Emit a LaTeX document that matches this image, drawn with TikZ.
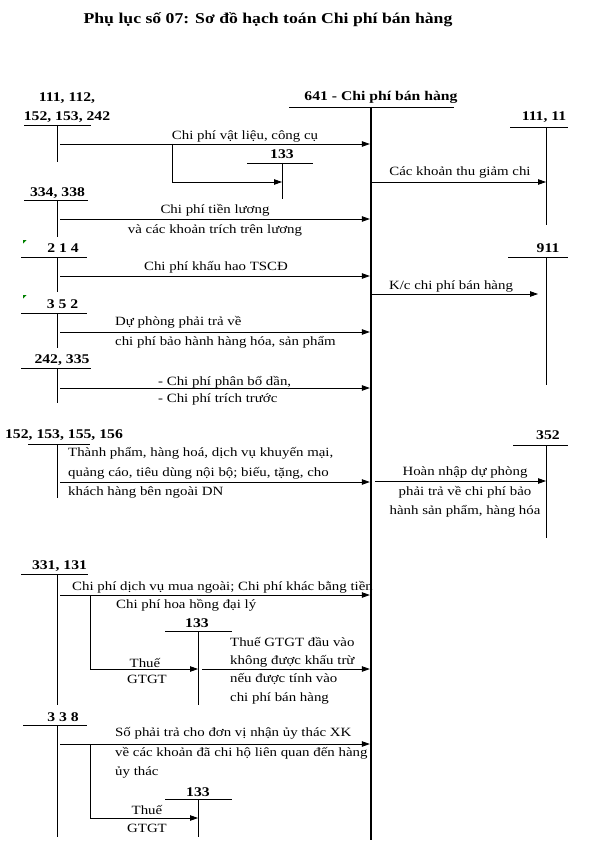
\documentclass[tikz,border=0pt]{standalone}
\usepackage{fontspec}
\setmainfont{Liberation Serif}[FakeStretch=1.18]
\usetikzlibrary{arrows.meta}

\begin{document}
\begin{tikzpicture}[x=1pt, y=-1pt,
    every node/.style={inner sep=0pt, font=\fontsize{12.6}{19.5}\selectfont},
    acc/.style={align=center, font=\fontsize{13.3}{19.5}\selectfont\bfseries},
    note/.style={align=left, anchor=west},
    tline/.style={line width=0.8pt},
    flow/.style={line width=0.8pt, -{Triangle[length=8pt,width=5.5pt]}}]
    \useasboundingbox (0,0) rectangle (593,850);

    \node[font=\fontsize{15}{18}\selectfont\bfseries] (title) at (268,20) {Phụ lục số 07: Sơ đồ hạch toán Chi phí bán hàng};

    % 641 - tai khoan chinh
    \node[acc] (tk641) at (381,97) {641 - Chi phí bán hàng};
    \draw[tline] (289,107) -- (454,107);
    \coordinate (m0) at (371,107);
    \coordinate (m1) at (371,840);
    \draw[line width=2.4pt] (m0) -- (m1);

    % cac tai khoan chu T: ten/nhan/x/y nhan/gach tu/den/y gach/x doc/y day
    \foreach \nm/\lbl/\cx/\ly/\xa/\xb/\yl/\vx/\yb in {
        a/{111, 112,\\152, 153, 242}/67/107.5/24/91/125/57/162,
        b/133/282/154/247/313/163/282/199,
        c/{111, 11}/544/117/510/568/127/546/225,
        d/{334, 338}/57.5/193/24/88/200/57/237,
        e/2 1 4/63/248/21/87/257/57/292,
        f/3 5 2/62.5/304/21/87/313/57/348,
        g/{242, 335}/62/360/21/91/368/57/403,
        h/911/548/248/508/568/257/546/385,
        i/{152, 153, 155, 156}/64/435/28/90/444/57/498,
        j/352/548/435/513/568/445/546/538,
        k/{331, 131}/59.5/566/21/88/574/57/705,
        l/133/197/623/165/232/631/198/705,
        m/3 3 8/63/717/23/87/725/57/837,
        n/133/198/792/165/232/799/198/837}
    {
        \node[acc] (tk\nm) at (\cx,\ly) {\lbl};
        \coordinate (tk\nm-t) at (\vx,\yl);
        \coordinate (tk\nm-b) at (\vx,\yb);
        \draw[tline] (\xa,\yl) -- (\xb,\yl);
        \draw[tline] (tk\nm-t) -- (tk\nm-b);
    }

    % dau nhan mau xanh
    \fill[green!50!black] (23,240) -- (26.5,240) -- (23,243.5) -- cycle;
    \fill[green!50!black] (23,295) -- (26.5,295) -- (23,298.5) -- cycle;

    % but toan ghi No 641
    \coordinate (s1) at (60,144);
    \coordinate (s1r) at (172,144);
    \coordinate (s1d) at (172,182);
    \draw[flow, shorten >=1.2pt] (s1) -- (s1 -| m0);
    \draw[flow] (s1r) -- (s1d) -- (s1d -| tkb-t);
    \node (l1) at (245,136) {Chi phí vật liệu, công cụ};

    \coordinate (s3) at (60,219);
    \draw[flow, shorten >=1.2pt] (s3) -- (s3 -| m0);
    \node[align=center] (l3) at (215,220.5) {Chi phí tiền lương\\và các khoản trích trên lương};

    \coordinate (s4) at (60,276);
    \draw[flow, shorten >=1.2pt] (s4) -- (s4 -| m0);
    \node (l4) at (216,267) {Chi phí khấu hao TSCĐ};

    \coordinate (s6) at (60,332);
    \draw[flow, shorten >=1.2pt] (s6) -- (s6 -| m0);
    \node[note] (l6) at (115,332.5) {Dự phòng phải trả về\\chi phí bảo hành hàng hóa, sản phẩm};

    \coordinate (s7) at (60,388);
    \draw[flow, shorten >=1.2pt] (s7) -- (s7 -| m0);
    \node[note, font=\fontsize{12.6}{17}\selectfont] (l7) at (158,390.5) {- Chi phí phân bổ dần,\\- Chi phí trích trước};

    \coordinate (s8) at (60,482);
    \draw[flow, shorten >=1.2pt] (s8) -- (s8 -| m0);
    \node[note] (l8) at (68,473) {Thành phẩm, hàng hoá, dịch vụ khuyến mại,\\quảng cáo, tiêu dùng nội bộ; biếu, tặng, cho\\khách hàng bên ngoài DN};

    \coordinate (s10) at (60,595);
    \coordinate (s10r) at (90,595);
    \coordinate (s10d) at (90,669);
    \draw[flow, shorten >=1.2pt] (s10) -- (s10 -| m0);
    \draw[flow] (s10r) -- (s10d) -- (s10d -| tkl-t);
    \node[note] (l10a) at (72,587) {Chi phí dịch vụ mua ngoài; Chi phí khác bằng tiền};
    \node[note] (l10b) at (116,605) {Chi phí hoa hồng đại lý};
    \node (l10c) at (145,663) {Thuế};
    \node (l10d) at (147,679) {GTGT};

    \coordinate (s11) at (202,669);
    \draw[flow, shorten >=1.2pt] (s11) -- (s11 -| m0);
    \node[note, font=\fontsize{12.6}{18.3}\selectfont] (l11) at (230,670.5) {Thuế GTGT đầu vào\\không được khấu trừ\\nếu được tính vào\\chi phí bán hàng};

    \coordinate (s12) at (60,744);
    \coordinate (s12r) at (90,744);
    \coordinate (s12d) at (90,818);
    \draw[flow, shorten >=1.2pt] (s12) -- (s12 -| m0);
    \draw[flow] (s12r) -- (s12d) -- (s12d -| tkn-t);
    \node[note] (l12) at (115,753) {Số phải trả cho đơn vị nhận ủy thác XK\\về các khoản đã chi hộ liên quan đến hàng\\ủy thác};
    \node (l12c) at (147,810) {Thuế};
    \node (l12d) at (147,828) {GTGT};

    % but toan ghi Co 641
    \coordinate (r2) at (371,182);
    \draw[flow] (r2) -- (r2 -| tkc-t);
    \node (l2) at (460,172) {Các khoản thu giảm chi};

    \coordinate (r5) at (371,294);
    \draw[flow, shorten >=8pt] (r5) -- (r5 -| tkh-t);
    \node (l5) at (451,286) {K/c chi phí bán hàng};

    \coordinate (r9) at (375,481);
    \draw[flow] (r9) -- (r9 -| tkj-t);
    \node[align=center] (l9) at (465,492) {Hoàn nhập dự phòng\\phải trả về chi phí bảo\\hành sản phẩm, hàng hóa};
\end{tikzpicture}
\end{document}
